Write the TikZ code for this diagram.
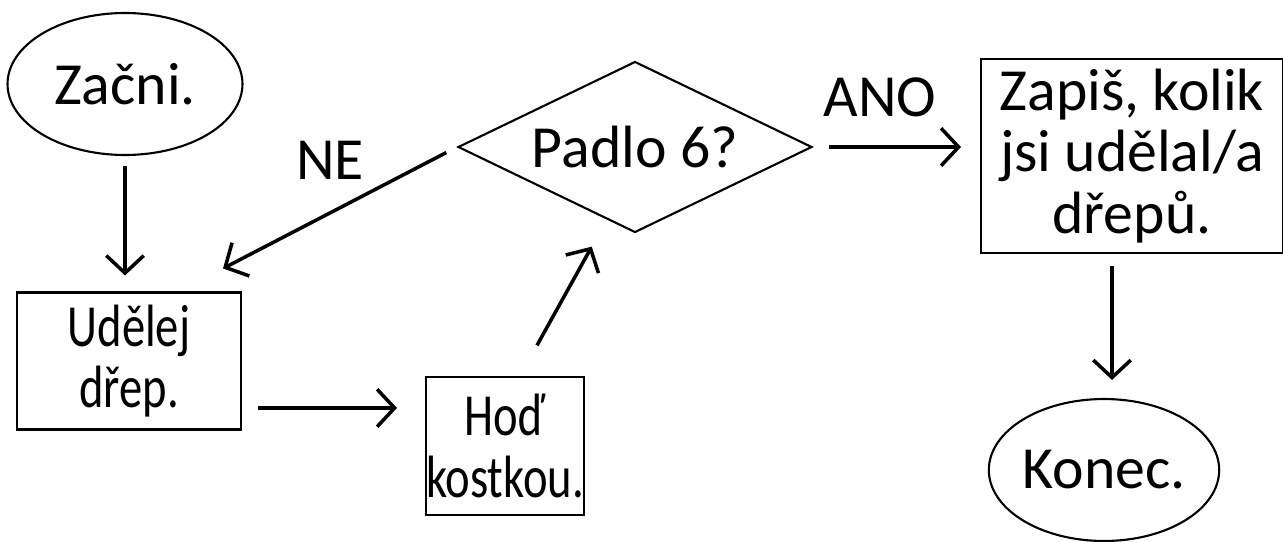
\documentclass[tikz,border=0pt]{standalone}
\usepackage{fontspec}
\setmainfont{Carlito}
\newfontfamily\narrowfont[FakeStretch=0.78]{Carlito}
\usetikzlibrary{arrows.meta,shapes.geometric,positioning}

\begin{document}
\begin{tikzpicture}[
  x=0.02cm, y=-0.02cm,
  every node/.style={font=\fontsize{34}{35}\selectfont, inner sep=0pt},
  narrow/.style={font=\narrowfont\fontsize{34}{35}\selectfont},
  term/.style={draw, ellipse, line width=1.2pt, minimum width=4.7cm, minimum height=2.84cm},
  box/.style={draw, align=center, line width=1.2pt},
  test/.style={draw, diamond, aspect=2.07, line width=1.2pt, minimum width=7.08cm, minimum height=3.42cm},
  flow/.style={-{Straight Barb[length=3.5mm, width=7.5mm]}, line width=2pt}
]
  \useasboundingbox (0,0) rectangle (1283,541);

  \node[term] (start) at (125,84) {Začni.};
  \node[box, narrow, minimum width=4.48cm, minimum height=2.74cm] (drep) at (129,361) {Udělej\\dřep.};
  \node[box, narrow, minimum width=3.06cm, minimum height=2.76cm] (hod) at (505,446) {Hoď\\kostkou.};
  \node[test] (padlo) at (635,147) {Padlo 6?};
  \node[box, minimum width=6.04cm, minimum height=3.88cm] (zapis) at (1132,156) {Zapiš, kolik\\jsi udělal/a\\dřepů.};
  \node[term, minimum width=4.56cm] (konec) at (1104,470) {Konec.};

  \node (ne) at (330,160) {NE};
  \node (ano) at (880,97) {ANO};

  \draw[flow, shorten <=0.2cm, shorten >=0.32cm] (start.south) -- (start.south |- drep.north);
  \draw[flow, shorten <=0.32cm, shorten >=0.56cm] ([yshift=-0.94cm]drep.east) -- ([yshift=-0.94cm]drep.east -| hod.west);
  \draw[flow, shorten <=0.7cm, shorten >=0.3cm] ([xshift=0.3cm]hod.north) -- ([xshift=-0.72cm]padlo.south);
  \draw[flow, shorten <=0.24cm] (padlo.west) -- ([shift={(-0.38cm,0.46cm)}]drep.north east);
  \draw[flow, shorten <=0.32cm, shorten >=0.38cm] (padlo.east) -- (padlo.east -| zapis.west);
  \draw[flow, shorten <=0.24cm, shorten >=0.36cm] ([xshift=-0.4cm]zapis.south) -- ([xshift=-0.4cm]zapis.south |- konec.north);
\end{tikzpicture}
\end{document}
